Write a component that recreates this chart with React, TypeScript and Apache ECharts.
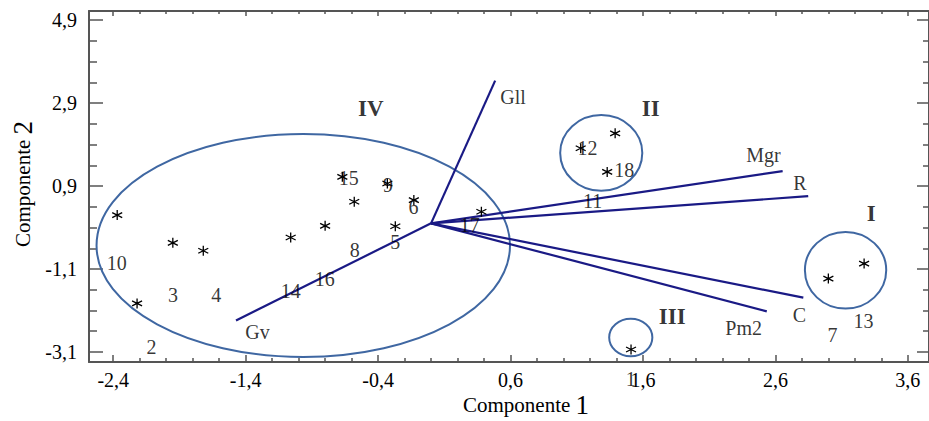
import React, { useEffect, useRef } from "react";
import * as echarts from "echarts";

// Observation points (asterisks)
const obsX = [-2.37, -2.22, -1.95, -1.72, -1.06, -0.8, -0.58, -0.67, -0.33, -0.13, -0.27, 0.38, 1.13, 1.39, 1.33, 3.0, 3.27, 1.51];
const obsY = [0.2, -1.93, -0.47, -0.66, -0.34, -0.06, 0.52, 1.12, 0.96, 0.56, -0.07, 0.28, 1.81, 2.17, 1.24, -1.33, -0.97, -3.04];

// Observation number labels
const obsLabels = ["10", "2", "3", "4", "14", "16", "8", "5", "6", "9", "15", "17", "11", "12", "18", "13", "7", "1"];
const obsLabelX = [-2.374, -2.111, -1.949, -1.623, -1.059, -0.802, -0.576, -0.27, -0.133, -0.326, -0.621, 0.293, 1.22, 1.182, 1.458, 3.266, 3.031, 1.508];
const obsLabelY = [-0.944, -2.98, -1.733, -1.733, -1.629, -1.33, -0.631, -0.447, 0.382, 0.92, 1.082, -0.044, 0.534, 1.805, 1.282, -2.353, -2.698, -3.742];

// Variable vectors (from origin)
const varNames = ["Gll", "Mgr", "R", "C", "Pm2", "Gv"];
const varX = [0.484, 2.655, 2.848, 2.811, 2.535, -1.473];
const varY = [3.44, 1.26, 0.655, -1.79, -2.12, -2.34];
const varLabelX = [0.619, 2.51, 2.785, 2.781, 2.36, -1.31];
const varLabelY = [3.05, 1.644, 0.976, -2.215, -2.521, -2.618];

// Group ellipses
const groupNames = ["IV", "II", "I", "III"];
const ellCX = [-0.965, 1.285, 3.13, 1.508];
const ellCY = [-0.534, 1.697, -1.13, -2.751];
const ellRX = [1.561, 0.31, 0.307, 0.163];
const ellRY = [2.685, 0.912, 0.924, 0.453];
const groupLabelX = [-0.455, 1.658, 3.324, 1.821];
const groupLabelY = [2.778, 2.77, 0.245, -2.24];

// Axis ticks
const xMajor = [-2.4, -1.4, -0.4, 0.6, 1.6, 2.6, 3.6];
const xMinor = [-2.2, -2.0, -1.8, -1.6, -1.2, -1.0, -0.8, -0.6, -0.2, 0.0, 0.2, 0.4, 0.8, 1.0, 1.2, 1.4, 1.8, 2.0, 2.2, 2.4, 2.8, 3.0, 3.2, 3.4];
const yMajor = [-3.1, -1.1, 0.9, 2.9, 4.9];
const yMinor = [-2.6, -2.1, -1.6, -0.6, -0.1, 0.4, 1.4, 1.9, 2.4, 3.4, 3.9, 4.4];

const X_MIN = -2.583;
const X_MAX = 3.76;
const Y_MIN = -3.341;
const Y_MAX = 5.117;

const FONT = "Liberation Serif";
const AXIS_COLOR = "#555555";
const VEC_COLOR = "#1a1a85";
const ELL_COLOR = "#3f67a2";
const TXT = "#000000";

const fmt = (v: number) => String(v).replace(".", ",");

function makeX(position: "top" | "bottom", values: number[], len: number, line: boolean, labels: boolean) {
  return {
    type: "value",
    gridIndex: 0,
    position,
    min: X_MIN,
    max: X_MAX,
    axisLine: { show: line, onZero: false, lineStyle: { color: AXIS_COLOR, width: 2 } },
    axisTick: { show: true, inside: true, length: len, customValues: values, lineStyle: { color: AXIS_COLOR, width: 1.5 } },
    axisLabel: labels
      ? { show: true, customValues: values, formatter: fmt, fontFamily: FONT, fontSize: 20, color: TXT, margin: 8 }
      : { show: false },
    splitLine: { show: false },
  };
}

function makeY(position: "left" | "right", values: number[], len: number, line: boolean, labels: boolean) {
  return {
    type: "value",
    gridIndex: 0,
    position,
    min: Y_MIN,
    max: Y_MAX,
    axisLine: { show: line, onZero: false, lineStyle: { color: AXIS_COLOR, width: 2 } },
    axisTick: { show: true, inside: true, length: len, customValues: values, lineStyle: { color: AXIS_COLOR, width: 1.5 } },
    axisLabel: labels
      ? { show: true, customValues: values, formatter: fmt, fontFamily: FONT, fontSize: 20, color: TXT, margin: 12 }
      : { show: false },
    splitLine: { show: false },
  };
}

const ASTERISK = "path://M5,0L5,10M0.67,2.5L9.33,7.5M0.67,7.5L9.33,2.5";

export default function App() {
  const ref = useRef<HTMLDivElement>(null);

  useEffect(() => {
    if (!ref.current) return;
    const chart = echarts.init(ref.current, undefined, { renderer: "svg" });

    const labelSeries = (names: string[], xs: number[], ys: number[], size: number, bold: boolean) => ({
      type: "scatter",
      silent: true,
      clip: false,
      symbolSize: 1,
      itemStyle: { color: "rgba(0,0,0,0)" },
      label: {
        show: true,
        position: "inside",
        formatter: (p: any) => p.name,
        fontFamily: FONT,
        fontSize: size,
        fontWeight: bold ? "bold" : "normal",
        color: TXT,
      },
      data: names.map((n, i) => ({ name: n, value: [xs[i], ys[i]] })),
      z: 6,
    });

    const option = {
      animation: false,
      backgroundColor: "#ffffff",
      grid: { left: 89, top: 11, right: -4, bottom: 59, containLabel: false },
      xAxis: [
        makeX("bottom", xMajor, 7, true, true),
        makeX("bottom", xMinor, 4, false, false),
        makeX("top", xMajor, 5, true, false),
        makeX("top", xMinor, 3, false, false),
      ],
      yAxis: [
        makeY("left", yMajor, 14, true, true),
        makeY("left", yMinor, 8, false, false),
        makeY("right", yMajor, 12, true, false),
        makeY("right", yMinor, 6, false, false),
      ],
      graphic: [
        {
          type: "text",
          x: 526,
          y: 405,
          style: {
            text: "{a|Componente }{b|1}",
            align: "center",
            verticalAlign: "middle",
            rich: {
              a: { fontFamily: FONT, fontSize: 21, fill: TXT },
              b: { fontFamily: FONT, fontSize: 27, fill: TXT },
            },
          },
        },
        {
          type: "text",
          x: 23,
          y: 184,
          rotation: Math.PI / 2,
          style: {
            text: "{a|Componente }{b|2}",
            align: "center",
            verticalAlign: "middle",
            rich: {
              a: { fontFamily: FONT, fontSize: 21, fill: TXT },
              b: { fontFamily: FONT, fontSize: 27, fill: TXT },
            },
          },
        },
      ],
      series: [
        {
          type: "custom",
          coordinateSystem: "cartesian2d",
          silent: true,
          clip: false,
          data: ellCX.map((cx, i) => [cx, ellCY[i], ellRX[i], ellRY[i]]),
          renderItem: (params: any, api: any) => {
            const c = api.coord([api.value(0), api.value(1)]);
            const s = api.size([api.value(2), api.value(3)]);
            return {
              type: "ellipse",
              shape: { cx: c[0], cy: c[1], rx: s[0], ry: s[1] },
              style: { fill: "none", stroke: ELL_COLOR, lineWidth: 2 },
            };
          },
        },
        {
          type: "lines",
          coordinateSystem: "cartesian2d",
          silent: true,
          data: varX.map((x, i) => ({ coords: [[0, 0], [x, varY[i]]] })),
          lineStyle: { color: VEC_COLOR, width: 2.2, opacity: 1, curveness: 0 },
        },
        {
          type: "scatter",
          silent: true,
          symbol: ASTERISK,
          symbolSize: 10,
          itemStyle: { color: "rgba(0,0,0,0)", borderColor: "#000", borderWidth: 1.3, opacity: 1 },
          data: obsX.map((x, i) => [x, obsY[i]]),
          z: 5,
        },
        labelSeries(obsLabels, obsLabelX, obsLabelY, 20, false),
        labelSeries(varNames, varLabelX, varLabelY, 20, false),
        labelSeries(groupNames, groupLabelX, groupLabelY, 23, true),
      ],
    };

    chart.setOption(option as any);
    return () => chart.dispose();
  }, []);

  return (
    <div
      ref={ref}
      style={{ position: "absolute", left: 0, top: 0, width: 929, height: 421, background: "#fff" }}
    />
  );
}
